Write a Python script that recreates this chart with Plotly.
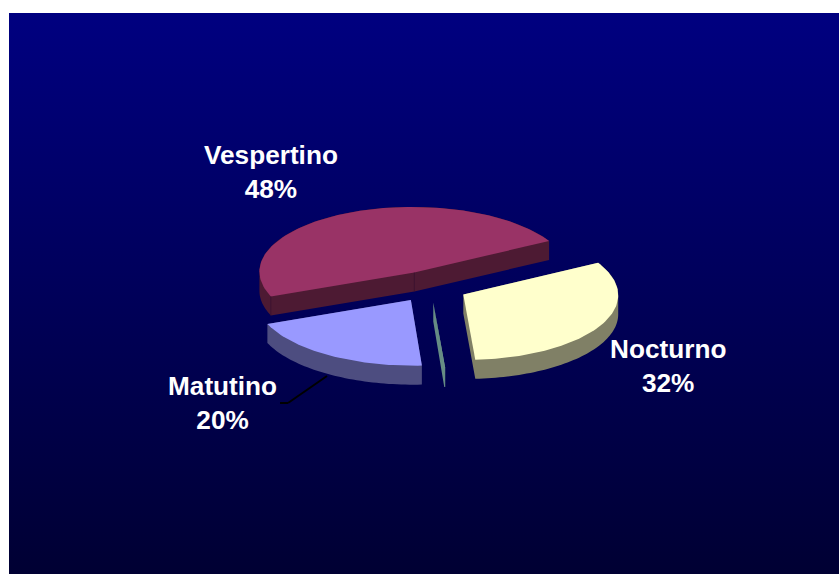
import math
import plotly.graph_objects as go

# --- data ---
categories = ["Matutino", "Vespertino", "Nocturno", ""]
values = [20, 48, 32, 0.1]
top_colors = ["#9999FF", "#993366", "#FFFFCC", "#6B9088"]
wall_colors = ["#4D4D80", "#4D1A33", "#808066", "#668C84"]
draw_order = [1, 2, 0, 3]

# --- projection of the tilted pie onto the page ---
W, H = 839, 574
CX, CY = 430.5, 286.8
AX, BX = 154.5, -11.0
AY, BY = -3.8, -65.5
DEPTH = 19.0
EXPLODE = 0.24
START = 180.0


def project(u, v):
    return CX + AX * u + BX * v, CY + AY * u + BY * v


def signed_area(pts):
    return sum(a[0] * b[1] - b[0] * a[1] for a, b in zip(pts, pts[1:] + pts[:1]))


def oriented(pts):
    return pts if signed_area(pts) > 0 else pts[::-1]


def flatten(polys):
    xs, ys = [], []
    for p in polys:
        p = oriented(p)
        xs += [q[0] for q in p] + [p[0][0], None]
        ys += [q[1] for q in p] + [p[0][1], None]
    return xs[:-1], ys[:-1]


fig = go.Figure()

# gradient backdrop
fig.add_trace(go.Scatter(
    x=[9, W, W, 9, 9], y=[13, 13, H, H, 13], mode="lines", fill="toself",
    line=dict(width=0), hoverinfo="skip",
    fillgradient=dict(type="vertical", colorscale=[[0, "#000033"], [1, "#000080"]]),
))

total = sum(values)
spans = []
a = START
for val in values:
    b = a + 360.0 * val / total
    spans.append((a, b))
    a = b

for i in draw_order:
    a, b = spans[i]
    mid = math.radians((a + b) / 2)
    ou, ov = EXPLODE * math.sin(mid), EXPLODE * math.cos(mid)
    n = max(2, int(abs(b - a) / 1.5))
    arc = []
    for k in range(n + 1):
        t = math.radians(a + (b - a) * k / n)
        arc.append(project(ou + math.sin(t), ov + math.cos(t)))
    apex = project(ou, ov)
    down = lambda pts: [(x, y + DEPTH) for x, y in pts]
    top = [apex] + arc
    quads = [
        down(top),
        [apex, arc[0]] + down([arc[0], apex]),
        [apex, arc[-1]] + down([arc[-1], apex]),
    ]
    for p, q in zip(arc, arc[1:]):
        quads.append([p, q] + down([q, p]))
    wx, wy = flatten(quads)
    fig.add_trace(go.Scatter(x=wx, y=wy, mode="lines", fill="toself",
                             fillcolor=wall_colors[i], line=dict(width=0),
                             hoverinfo="skip"))
    tx = [p[0] for p in top] + [apex[0]]
    ty = [p[1] for p in top] + [apex[1]]
    fig.add_trace(go.Scatter(x=tx, y=ty, mode="lines", fill="toself",
                             fillcolor=top_colors[i], line=dict(width=0),
                             hoverinfo="skip"))
    if categories[i] == "Vespertino":
        sx = [apex[0], apex[0], None, arc[0][0], arc[0][0]]
        sy = [apex[1], apex[1] + DEPTH, None, arc[0][1], arc[0][1] + DEPTH]
        fig.add_trace(go.Scatter(x=sx, y=sy, mode="lines",
                                 line=dict(width=0.7, color="#35102F"),
                                 hoverinfo="skip"))

# Matutino leader line
fig.add_shape(type="line", x0=327, y0=376, x1=288, y1=403,
              line=dict(color="#000000", width=2))
fig.add_shape(type="line", x0=288, y0=403, x1=280, y1=403,
              line=dict(color="#000000", width=2))

label_pos = {"Vespertino": (271, 172), "Nocturno": (667.5, 366), "Matutino": (222, 403)}
for name, val in zip(categories, values):
    if not name:
        continue
    lx, ly = label_pos[name]
    fig.add_annotation(x=lx, y=ly, text=f"<b>{name}<br>{round(val / total * 100)}%</b>",
                       showarrow=False, align="center",
                       font=dict(family="Liberation Sans", size=26.2, color="#FFFFFF"))

fig.update_layout(
    width=W, height=H, margin=dict(l=0, r=0, t=0, b=0),
    paper_bgcolor="#FFFFFF", plot_bgcolor="#FFFFFF", showlegend=False,
    xaxis=dict(range=[0, W], visible=False, fixedrange=True),
    yaxis=dict(range=[H, 0], visible=False, fixedrange=True),
)
fig.write_html("out.html", config={"displayModeBar": False},
               post_script="document.body.style.margin='0';")
